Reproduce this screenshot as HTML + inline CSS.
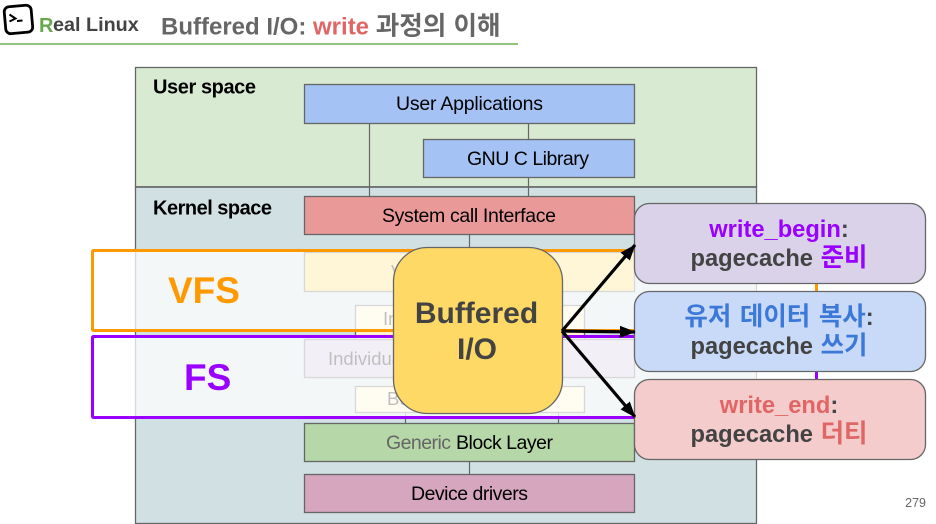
<!DOCTYPE html>
<html><head><meta charset="utf-8"><style>
html,body{margin:0;padding:0;background:#fff;width:936px;height:524px;overflow:hidden}
svg{display:block}
text{font-family:"Liberation Sans","Noto Sans CJK KR",sans-serif}
.l{font-size:19.5px;fill:#000;text-anchor:middle}
.h{font-size:18.5px;fill:#000}
.s{font-size:20px;font-weight:bold;fill:#000}
.b{font-size:23.7px;font-weight:bold;fill:#434343;text-anchor:middle}
.k{font-size:25.5px}
.r{stroke:#666;stroke-width:1.3}
.c{stroke:#666;stroke-width:1.2;fill:none}
</style></head><body>
<svg width="936" height="524" viewBox="0 0 936 524" xmlns="http://www.w3.org/2000/svg">
<defs><marker id="a" viewBox="0 0 10 10" refX="9.5" refY="5" markerWidth="5" markerHeight="5" markerUnits="strokeWidth" orient="auto"><path d="M0 1.2L10 5L0 8.8z" fill="#000"/></marker></defs>

<!-- header -->
<rect x="5" y="6" width="27" height="27" rx="5" fill="#fff" stroke="#000" stroke-width="2.8" transform="rotate(-5 18 20)"/>
<path d="M9.5 14.5L15.5 18.5L9.5 21.5M17 21L22.5 20.5" fill="none" stroke="#000" stroke-width="2"/>
<text x="39" y="32" font-size="20" font-weight="bold" fill="#6aa84f">R</text>
<text x="53" y="31" font-size="19.8" font-weight="bold" fill="#434343">eal Linux</text>
<text x="161" y="34.5" font-size="24" font-weight="bold" fill="#666">Buffered I/O: <tspan fill="#e06666">write</tspan> <tspan font-size="25.6">과정의 이해</tspan></text>
<rect x="0" y="43" width="518" height="2" fill="#93c47d"/>

<!-- spaces -->
<rect x="135.5" y="67.5" width="621" height="119.5" fill="#d9ead3" class="r"/>
<rect x="135.5" y="187" width="621" height="336.5" fill="#d0e0e3" class="r"/>
<path d="M135 187H757" stroke="#666" stroke-width="1.6"/>
<text x="153" y="93.5" class="s" textLength="103" lengthAdjust="spacing">User space</text>
<text x="153" y="214.5" class="s" textLength="119" lengthAdjust="spacing">Kernel space</text>

<!-- connectors -->
<path class="c" d="M369.5 123V196M528.5 123V139M528.5 177V196M469.5 234V305M405.5 412V423M558.5 412V423M469.5 461V474"/>

<!-- boxes -->
<rect x="304.5" y="84.5" width="330" height="39" fill="#a4c2f4" class="r"/>
<text x="469.5" y="110" class="l" textLength="147">User Applications</text>
<rect x="423.5" y="139.5" width="211" height="38" fill="#a4c2f4" class="r"/>
<text x="528" y="165" class="l" textLength="122">GNU C Library</text>
<rect x="304.5" y="196.5" width="330" height="38" fill="#ea9999" class="r"/>
<text x="469" y="222" class="l" textLength="174">System call Interface</text>
<rect x="304.5" y="252.5" width="330" height="39" fill="#ffd966" class="r"/>
<text x="391" y="278" class="h">Virtual File System</text>
<rect x="355.5" y="305.5" width="229" height="38" fill="#fff2cc" class="r"/>
<text x="383" y="325" class="h">Inode cache</text>
<rect x="304.5" y="339.5" width="330" height="38" fill="#c9bfe0" class="r"/>
<text x="328" y="365" class="h">Individual File System</text>
<rect x="355.5" y="386.5" width="229" height="26" fill="#fff2cc" class="r"/>
<text x="387" y="405" class="h">Buffer cache</text>
<rect x="304.5" y="423.5" width="330" height="38" fill="#b6d7a8" class="r"/>
<text x="386" y="449" font-size="19.5" fill="#666" textLength="65">Generic</text>
<text x="456" y="449" font-size="19.5" fill="#000" textLength="97">Block Layer</text>
<rect x="304.5" y="474.5" width="330" height="38" fill="#d5a6bd" class="r"/>
<text x="469.5" y="500" class="l" textLength="117">Device drivers</text>

<!-- overlays -->
<rect x="92.5" y="250.5" width="724" height="80" rx="1" fill="#fff" fill-opacity=".75" stroke="#ff9900" stroke-width="3"/>
<rect x="92.5" y="336.5" width="724" height="81" rx="1" fill="#fff" fill-opacity=".75" stroke="#9900ff" stroke-width="3"/>
<text x="168" y="303" font-size="37" font-weight="bold" fill="#ff9900">VFS</text>
<text x="184" y="390" font-size="37" font-weight="bold" fill="#9900ff">FS</text>

<!-- right boxes -->
<rect x="634.5" y="203.5" width="291" height="80" rx="15" fill="#d9d2e9" class="r"/>
<text x="779" y="237" class="b"><tspan fill="#9900ff">write_begin</tspan>:</text>
<text x="779" y="266" class="b">pagecache <tspan fill="#9900ff" class="k" dx="1">준비</tspan></text>
<rect x="634.5" y="291.5" width="291" height="80" rx="15" fill="#c9daf8" class="r"/>
<text x="779" y="325" class="b" word-spacing="1.5"><tspan fill="#3c78d8" class="k">유저 데이터 복사</tspan>:</text>
<text x="779" y="354" class="b">pagecache <tspan fill="#3c78d8" class="k" dx="1">쓰기</tspan></text>
<rect x="634.5" y="379.5" width="291" height="80" rx="15" fill="#f4cccc" class="r"/>
<text x="779" y="413" class="b"><tspan fill="#e06666">write_end</tspan>:</text>
<text x="779" y="442" class="b">pagecache <tspan fill="#e06666" class="k" dx="1">더티</tspan></text>

<!-- big box -->
<rect x="393.5" y="247.5" width="169" height="166" rx="34" fill="#ffd966" class="r"/>
<text x="476.5" y="323" font-size="30" font-weight="bold" fill="#434343" text-anchor="middle">Buffered</text>
<text x="477" y="359" font-size="30" font-weight="bold" fill="#434343" text-anchor="middle">I/O</text>

<!-- arrows -->
<g stroke="#000" stroke-width="3.2" fill="none">
<path d="M562 331L635 245" marker-end="url(#a)"/>
<path d="M562 331L635 332" marker-end="url(#a)"/>
<path d="M562 331L635 417" marker-end="url(#a)"/>
</g>

<text x="926" y="507" font-size="12.5" fill="#666" text-anchor="end">279</text>
</svg>
</body></html>
